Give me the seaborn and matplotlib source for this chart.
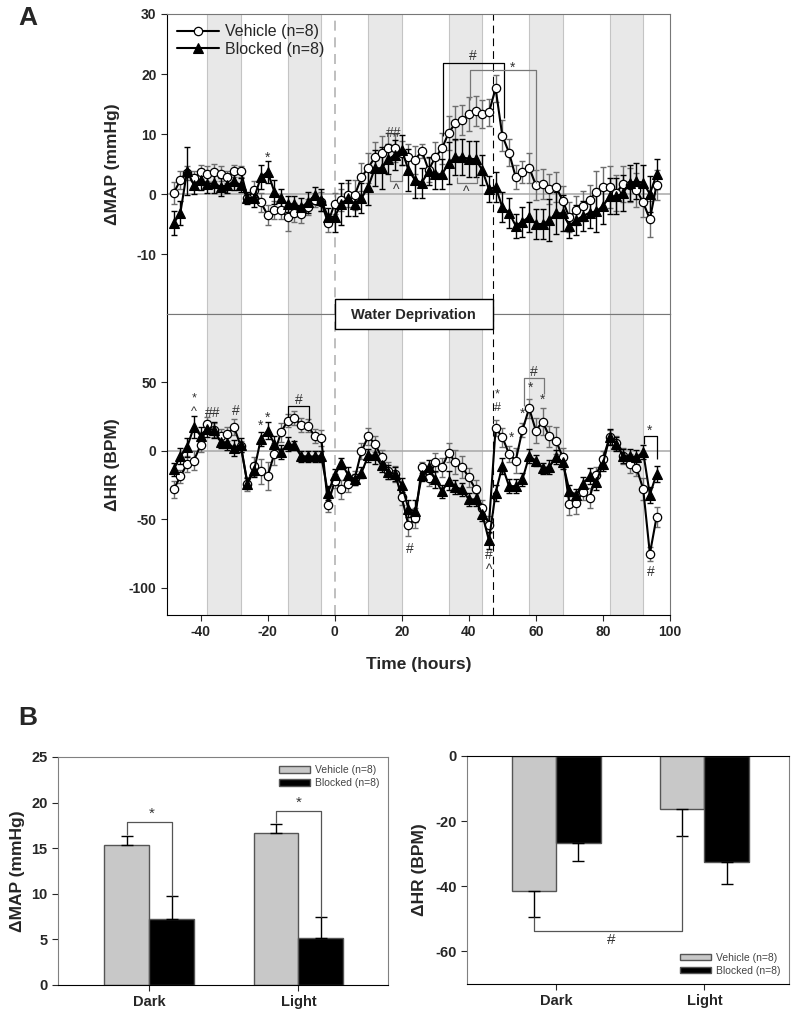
import numpy as np
import pandas as pd
import seaborn as sns
import matplotlib.pyplot as plt
from matplotlib.patches import Rectangle

# ====================
# Data
# ====================

hours = list(range(-48, 97, 2))

map_vehicle = [0.2, 2.3, 3.5, 2.6, 3.7, 3.4, 3.6, 3.4, 2.9, 3.9, 3.8,
               -0.6, 0.6, -1.4, -3.5, -2.7, -2.7, -3.9, -3.1, -3.3, -2.2, -1.0, -1.3, -4.8, -1.6,
               -1.0, -0.2, -0.2, 2.8, 4.4, 6.1, 6.9, 7.6, 7.7, 6.8, 6.1, 5.7,
               7.2, 4.0, 6.1, 7.6, 10.2, 11.8, 12.4, 13.3, 13.9, 13.3, 13.6, 17.6,
               9.7, 6.9, 2.8, 3.7, 4.4, 1.5, 1.7, 0.8, 1.2, -1.1, -3.9, -2.7,
               -2.0, -1.0, 0.4, 1.2, 1.1, 0.2, 1.7, 1.5, 0.7, -1.4, -4.2, 1.5]
map_vehicle_err = [1.8, 1.5, 1.2, 1.3, 1.2, 1.3, 1.4, 1.2, 1.0, 1.0, 0.9,
                   0.8, 1.5, 1.6, 1.7, 1.5, 1.4, 2.2, 1.6, 1.5, 1.3, 1.2, 1.6, 1.5, 1.8,
                   1.8, 2.0, 2.5, 2.3, 2.5, 2.5, 2.7, 2.5, 2.3, 2.0, 2.2, 2.3,
                   1.2, 2.0, 2.5, 2.6, 2.8, 2.8, 2.5, 2.8, 2.5, 2.3, 2.2, 2.3,
                   2.6, 2.2, 2.0, 1.8, 2.5, 2.5, 2.5, 2.5, 2.5, 2.5, 2.5, 2.4,
                   2.5, 2.5, 3.5, 3.3, 3.5, 3.0, 3.0, 2.8, 2.8, 2.5, 3.0, 2.5]
map_blocked = [-4.9, -3.1, 3.9, 1.5, 2.4, 1.7, 1.8, 1.2, 1.5, 2.1, 1.5,
               -0.7, -0.6, 2.8, 3.7, 0.4, -0.7, -1.7, -1.7, -2.2, -1.4, -0.2, -1.0, -3.8, -3.8,
               -1.6, -0.7, -1.6, -0.7, 1.2, 4.3, 4.3, 5.8, 6.5, 7.4, 4.0, 2.3,
               1.9, 3.8, 3.3, 3.3, 5.1, 6.1, 6.1, 5.9, 5.8, 4.0, 0.8, 1.2,
               -2.2, -3.1, -5.3, -4.6, -3.8, -5.0, -5.0, -4.4, -3.2, -3.2, -5.3, -4.3,
               -3.7, -3.1, -2.9, -2.0, -0.4, -0.4, 0.2, 1.8, 2.1, 1.9, 0.0, 3.3]
map_blocked_err = [2.0, 2.0, 4.0, 1.5, 1.8, 1.5, 1.6, 1.5, 1.4, 1.4, 1.2,
                   1.0, 1.5, 2.0, 1.8, 2.0, 1.5, 1.3, 1.3, 1.5, 1.8, 1.4, 1.8, 1.4, 2.5,
                   3.5, 3.0, 2.0, 2.5, 3.0, 3.0, 3.5, 2.5, 2.5, 2.5, 3.5, 3.0,
                   2.5, 2.3, 2.5, 2.5, 3.5, 3.0, 3.0, 3.0, 3.0, 2.5, 2.2, 2.5,
                   2.5, 2.5, 2.0, 2.5, 2.5, 2.5, 2.5, 3.5, 3.5, 3.0, 2.0, 2.5,
                   2.5, 2.5, 3.5, 3.0, 3.0, 3.0, 3.0, 3.0, 3.0, 3.0, 3.0, 2.5]

hr_vehicle = [-28.2, -18.7, -9.5, -7.1, 3.9, 19.7, 15.3, 11.2, 12.4, 17.3, 3.4,
              -24.1, -11.4, -15.1, -18.5, -2.2, 13.6, 22.1, 23.8, 19.0, 18.5, 10.7, 9.2, -39.4, -22.0,
              -28.0, -24.1, -20.0, -0.2, 10.5, 5.1, -4.6, -14.4, -16.8, -33.8, -54.5, -49.1,
              -11.9, -20.0, -8.3, -11.9, -1.5, -8.3, -11.9, -19.2, -28.2, -41.6, -54.0, 16.5,
              10.0, -2.2, -7.1, 15.3, 31.1, 14.8, 21.4, 10.5, 7.5, -4.6, -38.7, -38.0,
              -30.2, -34.5, -17.5, -5.8, 10.0, 5.8, -3.9, -9.5, -12.7, -27.7, -75.2, -48.4]
hr_vehicle_err = [6, 5, 6, 7, 5, 5, 5, 5, 5, 6, 4,
                  5, 7, 9, 10, 8, 7, 5, 5, 5, 5, 5, 6, 5, 5,
                  7, 6, 5, 6, 6, 6, 5, 6, 6, 6, 8, 7,
                  4, 6, 7, 7, 7, 9, 8, 7, 7, 6, 6, 6,
                  7, 6, 9, 5, 7, 9, 10, 8, 10, 7, 8, 8,
                  6, 7, 6, 6, 5, 5, 6, 7, 6, 8, 5, 7]
hr_blocked = [-13.6, -3.9, 2.7, 17.3, 11.2, 16.1, 15.3, 6.8, 5.8, 2.2, 4.4,
              -24.1, -13.9, 8.8, 14.8, 5.1, -1.0, 5.1, 3.9, -3.9, -4.1, -4.1, -3.9, -30.7, -18.0,
              -9.0, -17.5, -20.9, -16.1, -3.4, -3.4, -10.7, -15.6, -16.8, -24.8, -42.3, -44.3,
              -18.0, -11.9, -20.9, -29.7, -21.7, -26.5, -28.2, -35.5, -35.5, -46.0, -65.5, -30.7,
              -11.2, -25.8, -25.8, -20.9, -3.9, -7.1, -12.7, -11.9, -4.6, -8.3, -29.0, -32.6,
              -24.1, -18.5, -22.9, -9.5, 10.0, 5.1, -3.9, -3.9, -4.6, -1.0, -32.1, -16.8]
hr_blocked_err = [5, 6, 7, 8, 6, 6, 6, 5, 5, 6, 5,
                  4, 5, 5, 6, 6, 5, 5, 3, 4, 4, 4, 4, 5, 5,
                  4, 6, 4, 4, 5, 6, 5, 5, 5, 5, 6, 8,
                  4, 5, 6, 5, 7, 5, 5, 5, 5, 5, 6, 6,
                  6, 5, 5, 5, 5, 4, 4, 5, 5, 5, 4, 5,
                  5, 6, 6, 5, 6, 5, 5, 5, 5, 5, 6, 6]

dark_periods = [(-38, -28), (-14, -4), (10, 20), (34, 44), (58, 68), (82, 92)]
deprivation_start = 0
deprivation_end = 47.2

periods = ['Dark', 'Light']
groups = ['Vehicle (n=8)', 'Blocked (n=8)']
bar_map_vehicle = [15.4, 16.7]
bar_map_vehicle_err = [0.9, 1.0]
bar_map_blocked = [7.2, 5.2]
bar_map_blocked_err = [2.6, 2.2]
bar_hr_vehicle = [-41.5, -16.2]
bar_hr_vehicle_err = [8.0, 8.5]
bar_hr_blocked = [-26.6, -32.7]
bar_hr_blocked_err = [5.6, 6.5]

# ====================
# Plotting
# ====================

sns.set_style('ticks')
plt.rcParams['font.family'] = ['Liberation Sans', 'DejaVu Sans']
plt.rcParams['font.weight'] = 'bold'
plt.rcParams['axes.labelweight'] = 'bold'
plt.rcParams['axes.unicode_minus'] = False
plt.rcParams['xtick.major.size'] = 4
plt.rcParams['ytick.major.size'] = 4

fig = plt.figure(figsize=(7.96, 10.14), dpi=100)
ax1 = fig.add_axes([0.2098, 0.6903, 0.6319, 0.2959])
ax2 = fig.add_axes([0.2098, 0.3935, 0.6319, 0.2968])

GRAY = '#6e6e6e'
ANN = '#333333'


def draw_series(ax, yv, ev, yb, eb, label):
    for s, e in dark_periods:
        ax.axvspan(s, e, facecolor='#e8e8e8', edgecolor='#c4c4c4', lw=0.8, zorder=0)
    ax.axhline(0, color='#a8a8a8', lw=1.1, zorder=1)
    ax.axvline(deprivation_start, color='#b4b4b4', lw=1.2, ls=(0, (6, 4)), zorder=1)
    ax.axvline(deprivation_end, color='black', lw=0.8, ls=(0, (7, 4.5)), zorder=1)
    ax.errorbar(hours, yv, yerr=ev, fmt='none', ecolor=GRAY, elinewidth=1,
                capsize=2.5, capthick=1, zorder=2)
    ax.errorbar(hours, yb, yerr=eb, fmt='none', ecolor='black', elinewidth=1,
                capsize=2.5, capthick=1, zorder=2)
    sns.lineplot(x=hours, y=yv, ax=ax, color='black', lw=1.5, marker='o', markersize=6,
                 markerfacecolor='white', markeredgecolor='black', markeredgewidth=0.9,
                 label='Vehicle (n=8)' if label else None, zorder=4)
    sns.lineplot(x=hours, y=yb, ax=ax, color='black', lw=1.5, marker='^', markersize=7,
                 markerfacecolor='black', markeredgecolor='black', markeredgewidth=0.8,
                 label='Blocked (n=8)' if label else None, zorder=5)
    ax.set_xlim(-50, 100)
    for side in ['top', 'right', 'bottom', 'left']:
        ax.spines[side].set_visible(True)
        ax.spines[side].set_color('#777777')
    ax.spines['left'].set_color('black')


def bracket(ax, xs, ys, color='black'):
    ax.plot(xs, ys, color=color, lw=0.9, zorder=6, solid_capstyle='butt')


def note(ax, s, x, y, size=10):
    ax.text(x, y, s, ha='center', va='center', fontsize=size, fontweight='normal',
            color=ANN, zorder=7)


draw_series(ax1, map_vehicle, map_vehicle_err, map_blocked, map_blocked_err, True)
draw_series(ax2, hr_vehicle, hr_vehicle_err, hr_blocked, hr_blocked_err, False)
ax1.patch.set_alpha(0)

ax1.set_ylim(-20, 30)
ax1.set_yticks([-10, 0, 10, 20, 30])
ax1.tick_params(axis='x', bottom=False, labelbottom=False)
ax1.tick_params(axis='y', labelsize=10, direction='out')
ax1.set_ylabel('ΔMAP (mmHg)', fontsize=12.5)
ax1.yaxis.set_label_coords(-0.093, 0.5)
ax1.legend(loc='upper left', frameon=False, handlelength=2.6,
           borderaxespad=0.25, labelspacing=0.15, handletextpad=0.4,
           prop={'weight': 'normal', 'size': 11.5})

ax2.set_ylim(-120, 100)
ax2.set_yticks([-100, -50, 0, 50])
ax2.set_xticks([-40, -20, 0, 20, 40, 60, 80, 100])
ax2.tick_params(labelsize=10, direction='out')
ax2.spines['bottom'].set_color('black')
ax2.set_ylabel('ΔHR (BPM)', fontsize=12.5)
ax2.yaxis.set_label_coords(-0.093, 0.5)
ax2.set_xlabel('Time (hours)', fontsize=12.5, labelpad=13)
if ax2.get_legend():
    ax2.get_legend().remove()

# Water deprivation box on the panel boundary
ax2.add_patch(Rectangle((deprivation_start, 88.8), deprivation_end - deprivation_start, 21.9,
                        facecolor='white', edgecolor='black', lw=1, clip_on=False, zorder=10))
ax2.text((deprivation_start + deprivation_end) / 2, 99.6, 'Water Deprivation', ha='center',
         va='center', fontsize=10.5, fontweight='bold', zorder=11, clip_on=False)

# significance marks, MAP
note(ax1, '*', -20, 6.0)
note(ax1, '##', 17.6, 10.2)
bracket(ax1, [16.4, 16.4, 20.2, 20.2], [3.2, 2.2, 2.2, 3.2], '#777777')
note(ax1, '^', 18.3, 0.6)
bracket(ax1, [36.4, 36.4, 42.4, 42.4], [2.9, 1.8, 1.8, 2.9], '#777777')
note(ax1, '^', 39.2, 0.3)
bracket(ax1, [32.2, 32.2, 50.4, 50.4], [9.6, 21.8, 21.8, 12.7])
note(ax1, '#', 41.3, 23.0)
bracket(ax1, [40.3, 40.3, 60.1, 60.1], [15.7, 20.6, 20.6, 1.9], '#777777')
note(ax1, '*', 52.9, 21.0)

# significance marks, HR
note(ax2, '*', -42, 38.5, 9)
note(ax2, '^', -42, 28.5, 9)
note(ax2, '##', -36.5, 28)
note(ax2, '#', -29.5, 29)
note(ax2, '*', -22.2, 18.5)
note(ax2, '*', -20, 24.5)
bracket(ax2, [-13.9, -13.9, -7.8, -7.8], [24.6, 32.6, 32.6, 22])
note(ax2, '#', -10.6, 37)
note(ax2, '#', 22.3, -72)
note(ax2, '*', 48.4, 41.5, 9)
note(ax2, '#', 48.4, 31, 9)
note(ax2, '#', 46, -76)
note(ax2, '^', 46, -87)
note(ax2, '*', 52.7, 9.5)
note(ax2, '*', 56.0, 27)
note(ax2, '*', 58.3, 46)
note(ax2, '*', 62.1, 37.5)
bracket(ax2, [56.5, 56.5, 62.5, 62.5], [33, 53, 53, 41.6], '#777777')
note(ax2, '#', 59.3, 57.4)
bracket(ax2, [92.1, 92.1, 96.2, 96.2], [5.1, 10.7, 10.7, -5.8])
note(ax2, '*', 94.0, 14.5)
note(ax2, '#', 94.3, -88.6)

fig.text(0.035, 0.982, 'A', fontsize=19, fontweight='bold', ha='center', va='center')
fig.text(0.035, 0.292, 'B', fontsize=19, fontweight='bold', ha='center', va='center')


# ====================
# Bar charts
# ====================

def bar_panel(rect, vehicle, vehicle_err, blocked, blocked_err, ylabel, ylim, yticks,
              legend_loc, xlim):
    ax = fig.add_axes(rect)
    df = pd.DataFrame({'period': periods * 2,
                       'group': [groups[0]] * 2 + [groups[1]] * 2,
                       'value': vehicle + blocked})
    sns.barplot(data=df, x='period', y='value', hue='group', palette=['#c8c8c8', 'black'],
                width=0.6, saturation=1, errorbar=None, edgecolor='#555555', linewidth=1,
                ax=ax, zorder=2)
    for cont, errs in zip(ax.containers, [vehicle_err, blocked_err]):
        for bar, e in zip(cont, errs):
            x = bar.get_x() + bar.get_width() / 2
            y = bar.get_y() + bar.get_height()
            yerr = [[0], [e]] if y > 0 else [[e], [0]]
            ax.errorbar([x], [y], yerr=yerr, fmt='none', ecolor='black', elinewidth=1,
                        capsize=4, capthick=1, zorder=3)
    ax.set_ylim(*ylim)
    ax.set_xlim(*xlim)
    ax.set_yticks(yticks)
    ax.set_xlabel('')
    ax.set_ylabel(ylabel, fontsize=12.5, labelpad=6)
    ax.tick_params(labelsize=10.5, direction='out')
    for side in ['top', 'right', 'bottom', 'left']:
        ax.spines[side].set_visible(True)
        ax.spines[side].set_color('#808080')
    ax.spines['bottom'].set_color('black')
    ax.legend(loc=legend_loc, frameon=False, handlelength=3.0, handleheight=0.6,
              labelspacing=0.3, handletextpad=0.5, borderaxespad=0.4, labelcolor='#444444',
              prop={'weight': 'normal', 'size': 7.5})
    return ax


ax3 = bar_panel([0.0729, 0.0286, 0.4146, 0.2249], bar_map_vehicle, bar_map_vehicle_err,
                bar_map_blocked, bar_map_blocked_err, 'ΔMAP (mmHg)', (0, 25),
                [0, 5, 10, 15, 20, 25], 'upper right', (-0.61, 1.6))
ax3.yaxis.set_label_coords(-0.10, 0.5)
bracket(ax3, [-0.15, -0.15, 0.15, 0.15], [16.4, 17.9, 17.9, 9.8], '#555555')
note(ax3, '*', 0.02, 18.8, 11)
bracket(ax3, [0.85, 0.85, 1.15, 1.15], [17.8, 19.1, 19.1, 7.4], '#555555')
note(ax3, '*', 1.0, 20.0, 11)

ax4 = bar_panel([0.5867, 0.0296, 0.4045, 0.2249], bar_hr_vehicle, bar_hr_vehicle_err,
                bar_hr_blocked, bar_hr_blocked_err, 'ΔHR (BPM)', (-70, 0),
                [-60, -40, -20, 0], 'lower right', (-0.6, 1.57))
ax4.spines['top'].set_color('black')
bracket(ax4, [-0.15, -0.15, 0.85, 0.85], [-49.5, -53.6, -53.6, -24.7], '#555555')
note(ax4, '#', 0.37, -56.6, 11)

fig.savefig('out.png', dpi=100)
